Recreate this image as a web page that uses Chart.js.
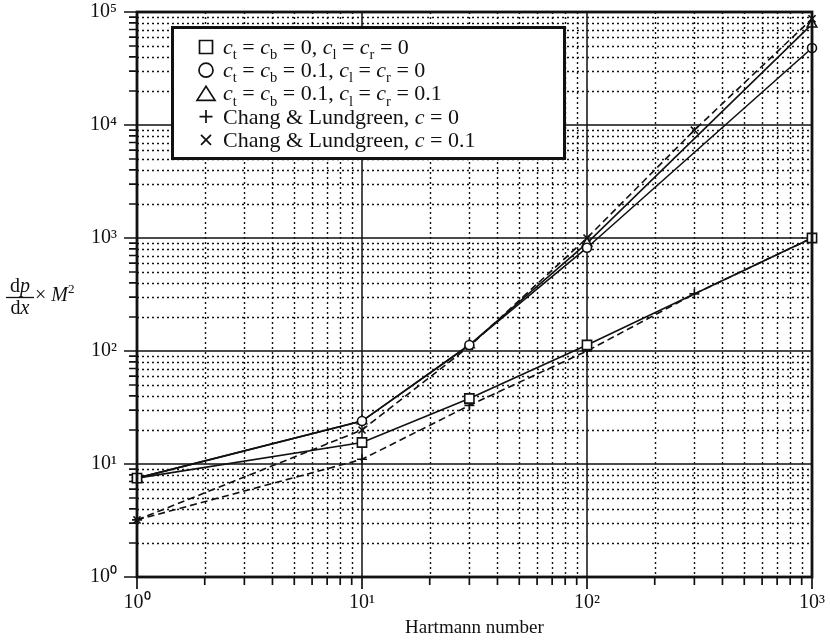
<!DOCTYPE html>
<html>
<head>
<meta charset="utf-8">
<title>Pressure gradient versus Hartmann number</title>
<script src="https://cdn.jsdelivr.net/npm/chart.js@4/dist/chart.umd.min.js"></script>
<style>
  html, body { margin: 0; padding: 0; background: #fff; }
  #wrap { width: 830px; height: 641px; }
</style>
</head>
<body>
<div id="wrap"><canvas id="chart" width="830" height="641"></canvas></div>
<script>
// Hartmann numbers at which the duct solutions were computed
const hartmannNumbers = [1, 10, 30, 100, 1000];
// dp/dx × M² for the three wall-conductance cases
const pressureSquare   = [7.5, 15.5, 38, 113, 1000];      // c_t = c_b = 0,   c_l = c_r = 0
const pressureCircle   = [7.5, 24, 113, 820, 48000];      // c_t = c_b = 0.1, c_l = c_r = 0
const pressureTriangle = [7.5, 24, 113, 900, 78000];      // c_t = c_b = 0.1, c_l = c_r = 0.1
// Chang & Lundgreen reference solutions
const hartmannChang = [1, 10, 30, 100, 300, 1000];
const changC0   = [3.2, 11, 33, 100, 320, 1000];
const changC01  = [3.2, 20, 110, 1000, 9000, 87000];

// axis ticks (decades) and their labels
const xTickValues = [1, 10, 100, 1000];
const yTickValues = [1, 10, 100, 1000, 10000, 100000];
const expSup = ['\u2070', '\u00B9', '\u00B2', '\u00B3', '\u2074', '\u2075'];
const xTitle = 'Hartmann number';

// legend entries: rich-text segments (i = italic, sub = subscript)
const legendLabels = [
  [{t:'c',i:1},{t:'t',sub:1},{t:' = '},{t:'c',i:1},{t:'b',sub:1},{t:' = 0, '},{t:'c',i:1},{t:'l',sub:1},{t:' = '},{t:'c',i:1},{t:'r',sub:1},{t:' = 0'}],
  [{t:'c',i:1},{t:'t',sub:1},{t:' = '},{t:'c',i:1},{t:'b',sub:1},{t:' = 0.1, '},{t:'c',i:1},{t:'l',sub:1},{t:' = '},{t:'c',i:1},{t:'r',sub:1},{t:' = 0'}],
  [{t:'c',i:1},{t:'t',sub:1},{t:' = '},{t:'c',i:1},{t:'b',sub:1},{t:' = 0.1, '},{t:'c',i:1},{t:'l',sub:1},{t:' = '},{t:'c',i:1},{t:'r',sub:1},{t:' = 0.1'}],
  [{t:'Chang & Lundgreen, '},{t:'c',i:1},{t:' = 0'}],
  [{t:'Chang & Lundgreen, '},{t:'c',i:1},{t:' = 0.1'}]
];
const legendSymbols = ['rect', 'circle', 'triangle', 'cross', 'crossRot'];

const INK = '#111';
const SERIF = '"Liberation Serif", "Times New Roman", serif';

function pts(xs, ys) { return xs.map((x, i) => ({ x: x, y: ys[i] })); }

const solidLine = { borderColor: INK, borderWidth: 1.6, pointBorderColor: INK, pointBackgroundColor: '#fff',
                    pointBorderWidth: 1.6, fill: false, tension: 0, clip: false };
const dashedLine = Object.assign({}, solidLine, { borderDash: [7, 4], pointBackgroundColor: INK });

function drawRich(ctx, x, y, segs, size) {
  for (const s of segs) {
    const fs = s.sub || s.sup ? size * 0.66 : size;
    ctx.font = (s.i ? 'italic ' : '') + fs + 'px ' + SERIF;
    const dy = s.sub ? size * 0.24 : (s.sup ? -size * 0.42 : 0);
    ctx.fillText(s.t, x, y + dy);
    x += ctx.measureText(s.t).width;
  }
  return x;
}

function drawSymbol(ctx, style, cx, cy) {
  ctx.beginPath();
  if (style === 'rect') {
    ctx.rect(cx - 6.5, cy - 6.5, 13, 13);
  } else if (style === 'circle') {
    ctx.arc(cx, cy, 7, 0, Math.PI * 2);
  } else if (style === 'triangle') {
    ctx.moveTo(cx - 9, cy + 7); ctx.lineTo(cx + 9, cy + 7); ctx.lineTo(cx, cy - 7); ctx.closePath();
  } else if (style === 'cross') {
    ctx.moveTo(cx - 6.5, cy); ctx.lineTo(cx + 6.5, cy); ctx.moveTo(cx, cy - 6.5); ctx.lineTo(cx, cy + 6.5);
  } else {
    ctx.moveTo(cx - 5, cy - 5); ctx.lineTo(cx + 5, cy + 5); ctx.moveTo(cx + 5, cy - 5); ctx.lineTo(cx - 5, cy + 5);
  }
  ctx.stroke();
}

// log grid positions: every integer multiple within each decade of the scale
function logGrid(min, max) {
  const out = [];
  for (let d = min; d < max * 0.999; d *= 10) {
    for (let k = 1; k < 10; k++) out.push({ v: d * k, major: k === 1 });
  }
  out.push({ v: max, major: true });
  return out;
}

const paperPlugin = {
  id: 'paper',
  beforeDatasetsDraw(chart) {
    const ctx = chart.ctx;
    const { left, right, top, bottom } = chart.chartArea;
    const xs = chart.scales.x, ys = chart.scales.y;
    const gx = logGrid(xs.min, xs.max), gy = logGrid(ys.min, ys.max);
    ctx.save();
    ctx.strokeStyle = INK;
    // dotted minor grid
    ctx.setLineDash([2, 3]);
    ctx.lineWidth = 1.4;
    ctx.beginPath();
    for (const g of gx) if (!g.major) { const p = Math.round(xs.getPixelForValue(g.v)) + 0.5; ctx.moveTo(p, top); ctx.lineTo(p, bottom); }
    for (const g of gy) if (!g.major) { const p = Math.round(ys.getPixelForValue(g.v)) + 0.5; ctx.moveTo(left, p); ctx.lineTo(right, p); }
    ctx.stroke();
    // solid decade grid
    ctx.setLineDash([]);
    ctx.lineWidth = 1.5;
    ctx.beginPath();
    for (const g of gx) if (g.major) { const p = xs.getPixelForValue(g.v); ctx.moveTo(p, top); ctx.lineTo(p, bottom); }
    for (const g of gy) if (g.major) { const p = ys.getPixelForValue(g.v); ctx.moveTo(left, p); ctx.lineTo(right, p); }
    ctx.stroke();
    // outside tick marks
    ctx.lineWidth = 1.7;
    ctx.beginPath();
    for (const g of gx) { const p = xs.getPixelForValue(g.v); ctx.moveTo(p, bottom); ctx.lineTo(p, bottom + (g.major ? 12 : 8)); }
    for (const g of gy) { const p = ys.getPixelForValue(g.v); ctx.moveTo(left, p); ctx.lineTo(left - (g.major ? 13 : 8), p); }
    ctx.stroke();
    ctx.restore();
  },
  afterDatasetsDraw(chart) {
    const ctx = chart.ctx;
    const { left, right, top, bottom } = chart.chartArea;
    ctx.save();
    // plot frame
    ctx.strokeStyle = INK;
    ctx.lineWidth = 2.8;
    ctx.strokeRect(left, top, right - left, bottom - top);

    // legend box
    ctx.fillStyle = '#fff';
    ctx.fillRect(171, 26, 395, 134);
    ctx.lineWidth = 3;
    ctx.strokeRect(172.5, 27.5, 392, 131);
    ctx.fillStyle = INK;
    ctx.textBaseline = 'alphabetic';
    ctx.textAlign = 'left';
    legendLabels.forEach((segs, i) => {
      const base = 54 + i * 23.2;
      ctx.lineWidth = 1.7;
      drawSymbol(ctx, legendSymbols[i], 206, base - 7);
      drawRich(ctx, 223, base, segs, 22);
    });

    // y-axis title: dp/dx × M²
    const fs = 20;
    const widthOf = (a, b) => {
      ctx.font = fs + 'px ' + SERIF; const w = ctx.measureText(a).width;
      ctx.font = 'italic ' + fs + 'px ' + SERIF; return w + ctx.measureText(b).width;
    };
    const numW = widthOf('d', 'p'), denW = widthOf('d', 'x');
    const cx = 20;
    drawRich(ctx, cx - numW / 2, 292, [{t:'d'},{t:'p',i:1}], fs);
    drawRich(ctx, cx - denW / 2, 314, [{t:'d'},{t:'x',i:1}], fs);
    ctx.lineWidth = 1.3;
    ctx.beginPath(); ctx.moveTo(6, 297.5); ctx.lineTo(34, 297.5); ctx.stroke();
    drawRich(ctx, 35, 301, [{t:'\u00D7 '},{t:'M',i:1},{t:'2',sup:1}], fs);
    ctx.restore();
  }
};

const tickFont = { family: SERIF, size: 20 };
const expLabel = v => '10' + expSup[Math.round(Math.log10(v))];

new Chart(document.getElementById('chart'), {
  type: 'line',
  data: {
    datasets: [
      Object.assign({ label: 'c_t = c_b = 0, c_l = c_r = 0', data: pts(hartmannNumbers, pressureSquare),
                      pointStyle: 'rect', pointRadius: 6.5 }, solidLine),
      Object.assign({ label: 'c_t = c_b = 0.1, c_l = c_r = 0', data: pts(hartmannNumbers, pressureCircle),
                      pointStyle: 'circle', pointRadius: 4.5 }, solidLine),
      Object.assign({ label: 'c_t = c_b = 0.1, c_l = c_r = 0.1', data: pts(hartmannNumbers, pressureTriangle),
                      pointStyle: 'triangle', pointRadius: 5.5 }, solidLine),
      Object.assign({ label: 'Chang & Lundgreen, c = 0', data: pts(hartmannChang, changC0),
                      pointStyle: 'cross', pointRadius: 5 }, dashedLine),
      Object.assign({ label: 'Chang & Lundgreen, c = 0.1', data: pts(hartmannChang, changC01),
                      pointStyle: 'crossRot', pointRadius: 5 }, dashedLine)
    ]
  },
  options: {
    responsive: false,
    animation: false,
    devicePixelRatio: 1,
    layout: { padding: { top: 12, right: 18, bottom: 0, left: 0 } },
    plugins: { legend: { display: false }, tooltip: { enabled: false } },
    scales: {
      x: {
        type: 'logarithmic', min: 1, max: 1000, position: 'bottom',
        afterBuildTicks: s => { s.ticks = xTickValues.map(v => ({ value: v, major: true })); },
        afterFit: s => { s.height = 64; s.paddingLeft = 0; s.paddingRight = 0; },
        grid: { display: true, drawOnChartArea: false, drawTicks: false, color: 'rgba(0,0,0,0)' },
        border: { display: false },
        ticks: { autoSkip: false, maxRotation: 0, padding: 14, color: INK, font: tickFont, callback: v => expLabel(v) },
        title: { display: true, text: xTitle, color: INK, font: { family: SERIF, size: 19 }, padding: { top: 0, bottom: 2 } }
      },
      y: {
        type: 'logarithmic', min: 1, max: 100000, position: 'left',
        afterBuildTicks: s => { s.ticks = yTickValues.map(v => ({ value: v, major: true })); },
        afterFit: s => { s.width = 137; s.paddingTop = 0; s.paddingBottom = 0; },
        grid: { display: true, drawOnChartArea: false, drawTicks: false, color: 'rgba(0,0,0,0)' },
        border: { display: false },
        ticks: { autoSkip: false, padding: 20, color: INK, font: tickFont, callback: v => expLabel(v) }
      }
    }
  },
  plugins: [paperPlugin]
});
</script>
</body>
</html>
